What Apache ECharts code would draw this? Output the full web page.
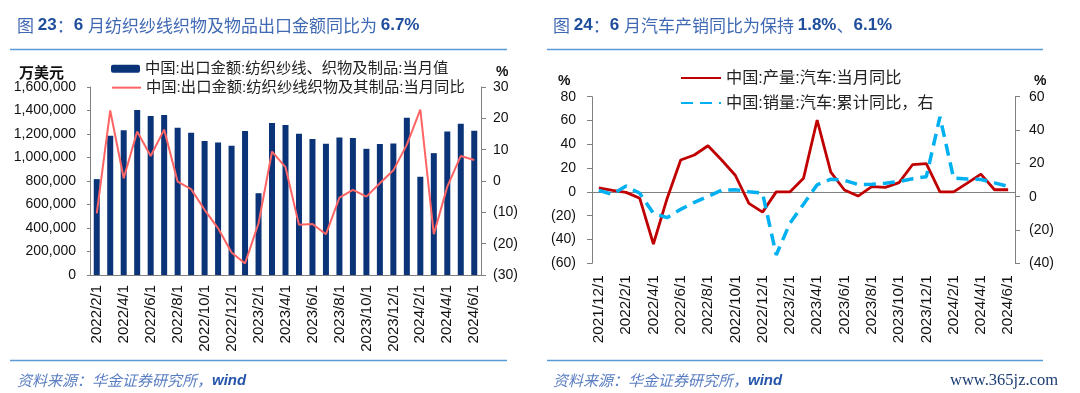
<!DOCTYPE html>
<html><head><meta charset="utf-8">
<script src="https://cdn.jsdelivr.net/npm/echarts/dist/echarts.min.js"></script>
<style>html,body{margin:0;padding:0;background:#fff;}#c{width:1080px;height:393px;}</style>
</head><body><div id="c"></div>
<script>
// ---------- Left chart data (图23) ----------
const leftCats = ['2022/2/1','2022/3/1','2022/4/1','2022/5/1','2022/6/1','2022/7/1','2022/8/1','2022/9/1','2022/10/1','2022/11/1','2022/12/1',
  '2023/1/1','2023/2/1','2023/3/1','2023/4/1','2023/5/1','2023/6/1','2023/7/1','2023/8/1','2023/9/1','2023/10/1','2023/11/1','2023/12/1',
  '2024/1/1','2024/2/1','2024/3/1','2024/4/1','2024/5/1','2024/6/1'];
const exportValue = [816000,1185000,1231000,1404000,1353000,1361000,1253000,1211000,1140000,1128000,1100000,
  1225000,696000,1293000,1276000,1202000,1157000,1117000,1171000,1165000,1074000,1114000,1120000,
  1339000,836000,1037000,1222000,1287000,1228000];
const exportYoY = [-10.3,22.5,0.9,15.8,8.0,16.4,-0.2,-2.6,-9.2,-15.1,-22.8,
  -26.3,-13.5,9.4,4.4,-14.0,-13.7,-17.0,-5.3,-2.8,-5.0,-0.7,3.4,
  11.6,22.8,-17.0,-1.8,8.0,6.7];
const leftNames = ['中国:出口金额:纺织纱线、织物及制品:当月值','中国:出口金额:纺织纱线织物及其制品:当月同比'];

// ---------- Right chart data (图24) ----------
const rightCats = ['2021/12/1','2022/1/1','2022/2/1','2022/3/1','2022/4/1','2022/5/1','2022/6/1','2022/7/1','2022/8/1','2022/9/1','2022/10/1','2022/11/1','2022/12/1',
  '2023/1/1','2023/2/1','2023/3/1','2023/4/1','2023/5/1','2023/6/1','2023/7/1','2023/8/1','2023/9/1','2023/10/1','2023/11/1','2023/12/1',
  '2024/1/1','2024/2/1','2024/3/1','2024/4/1','2024/5/1','2024/6/1'];
const prodYoY = [3.3,1.2,-0.4,-5.4,-43.8,-5.7,26.8,31.0,38.8,26.8,14.0,-9.6,-17.0,
  0,0,11.4,60.4,16.6,1.6,-3.5,4.4,3.8,7.8,23.0,23.8,
  0,0,7.4,15.0,1.8,1.8];
const salesCumYoY = [3.8,1.4,6.4,2.0,-10.0,-12.6,-7.6,-3.4,0.2,3.8,4.2,3.0,2.1,
  -35.0,-16.0,-4.5,7.1,10.5,9.8,7.3,7.4,8.0,9.1,10.8,12.0,
  47.9,11.1,10.6,10.3,8.3,6.1];
const rightNames = ['中国:产量:汽车:当月同比','中国:销量:汽车:累计同比，右'];

const LAT = '"Liberation Sans", "Noto Sans CJK SC", sans-serif';
const CJK = '"Noto Sans CJK SC", sans-serif';
const AX = '#808080';
const LBL = '#111';
const paren = v => v < 0 ? '(' + (-v) + ')' : String(v);

const chart = echarts.init(document.getElementById('c'), null, {renderer: 'canvas'});

const titleRich = {
  c: {fontSize: 17, color: '#4069b3', fontFamily: CJK, fontWeight: 'normal'},
  n: {fontSize: 17, fontWeight: 'bold', color: '#1f4e9c', fontFamily: LAT}
};
const footRich = {
  c: {fontSize: 15, color: '#5a7ec2', fontFamily: CJK, fontStyle: 'italic', fontWeight: 'normal'},
  w: {fontSize: 15, color: '#2555aa', fontFamily: LAT, fontStyle: 'italic', fontWeight: 'bold'}
};
const lineLegend = (name, left, top, w, fs) => ({
  data: [name], left: left, top: top, itemWidth: w, itemHeight: 10, itemGap: 5, padding: 0,
  itemStyle: {opacity: 0},
  textStyle: {fontSize: fs, color: '#222', fontFamily: LAT}
});

const option = {
  backgroundColor: '#fff',
  animation: false,
  title: [
    {left: 12, top: 12, text: '{c|图 }{n|23}{c|：}{n|6 }{c|月纺织纱线织物及物品出口金额同比为 }{n|6.7%}', textStyle: {fontWeight: 'normal', rich: titleRich}},
    {left: 548, top: 12, text: '{c|图 }{n|24}{c|：}{n|6 }{c|月汽车产销同比为保持 }{n|1.8%}{c|、}{n|6.1%}', textStyle: {fontWeight: 'normal', rich: titleRich}},
    {left: 14, top: 60, text: '万美元', textStyle: {fontSize: 15, fontWeight: 'bold', color: '#111', fontFamily: CJK}},
    {left: 491, top: 60, text: '%', textStyle: {fontSize: 14, fontWeight: 'bold', color: '#111', fontFamily: LAT}},
    {left: 553, top: 69, text: '%', textStyle: {fontSize: 14, fontWeight: 'bold', color: '#111', fontFamily: LAT}},
    {left: 1029, top: 69, text: '%', textStyle: {fontSize: 14, fontWeight: 'bold', color: '#111', fontFamily: LAT}},
    {left: 12, top: 368, text: '{c|资料来源：华金证券研究所，}{w|wind}', textStyle: {fontWeight: 'normal', rich: footRich}},
    {left: 548, top: 368, text: '{c|资料来源：华金证券研究所，}{w|wind}', textStyle: {fontWeight: 'normal', rich: footRich}},
    {left: 945, top: 367, text: 'www.365jz.com', textStyle: {fontSize: 16.5, color: '#1c3d73', fontFamily: '"Liberation Serif", serif', fontWeight: 'normal'}}
  ],
  graphic: [
    {type: 'line', shape: {x1: 10, y1: 49.5, x2: 507, y2: 49.5}, style: {stroke: '#5b9bd5', lineWidth: 1.5}},
    {type: 'line', shape: {x1: 547, y1: 49.5, x2: 1043, y2: 49.5}, style: {stroke: '#5b9bd5', lineWidth: 1.5}},
    {type: 'line', shape: {x1: 10, y1: 360.5, x2: 507, y2: 360.5}, style: {stroke: '#5b9bd5', lineWidth: 1.5}},
    {type: 'line', shape: {x1: 547, y1: 360.5, x2: 1043, y2: 360.5}, style: {stroke: '#5b9bd5', lineWidth: 1.5}}
  ],
  legend: [
    {data: [leftNames[0]], left: 111, top: 61, itemWidth: 29, itemHeight: 8, itemGap: 5, padding: 0,
      textStyle: {fontSize: 15.3, color: '#222', fontFamily: LAT}},
    lineLegend(leftNames[1], 111, 80, 29, 15.3),
    lineLegend(rightNames[0], 680, 70, 40, 16.2),
    lineLegend(rightNames[1], 680, 95, 40, 16.2)
  ],
  grid: [
    {left: 90, top: 87, width: 391, height: 188},
    {left: 592, top: 96.7, width: 423, height: 166.6}
  ],
  xAxis: [
    {gridIndex: 0, type: 'category', data: leftCats, position: 'bottom', boundaryGap: true,
      axisLine: {onZero: false, lineStyle: {color: AX, width: 1}},
      axisTick: {interval: 1, length: 4, lineStyle: {color: AX}},
      axisLabel: {interval: 1, rotate: 90, fontSize: 15, margin: 10, color: LBL, fontFamily: LAT},
      splitLine: {show: false}},
    {gridIndex: 1, type: 'category', data: rightCats, position: 'bottom', boundaryGap: true,
      axisLine: {show: false, onZero: false}, axisTick: {show: false},
      axisLabel: {interval: 1, rotate: 90, fontSize: 15.3, margin: 12, color: LBL, fontFamily: LAT},
      splitLine: {show: false}},
    {gridIndex: 1, type: 'category', data: rightCats, position: 'bottom', boundaryGap: true,
      axisLine: {show: true, onZero: true, onZeroAxisIndex: 2, lineStyle: {color: AX, width: 1}},
      axisTick: {interval: 1, length: 4, lineStyle: {color: AX}},
      axisLabel: {show: false}, splitLine: {show: false}}
  ],
  yAxis: [
    {gridIndex: 0, type: 'value', position: 'left', min: 0, max: 1600000, interval: 200000,
      axisLine: {show: true, lineStyle: {color: AX}}, axisTick: {show: true, length: 3, lineStyle: {color: AX}},
      splitLine: {show: false},
      axisLabel: {fontSize: 14, color: LBL, fontFamily: LAT, margin: 14,
        formatter: v => v.toLocaleString('en-US')}},
    {gridIndex: 0, type: 'value', position: 'right', min: -30, max: 30, interval: 10,
      axisLine: {show: true, lineStyle: {color: AX}}, axisTick: {show: true, length: 5, lineStyle: {color: AX}},
      splitLine: {show: false},
      axisLabel: {fontSize: 14, color: LBL, fontFamily: LAT, margin: 12, formatter: paren}},
    {gridIndex: 1, type: 'value', position: 'left', min: -60, max: 80, interval: 20,
      axisLine: {show: true, lineStyle: {color: AX}}, axisTick: {show: true, length: 5, lineStyle: {color: AX}},
      splitLine: {show: false},
      axisLabel: {fontSize: 14, color: LBL, fontFamily: LAT, margin: 16, formatter: paren}},
    {gridIndex: 1, type: 'value', position: 'right', min: -40, max: 60, interval: 20,
      axisLine: {show: true, lineStyle: {color: AX}}, axisTick: {show: true, length: 5, lineStyle: {color: AX}},
      splitLine: {show: false},
      axisLabel: {fontSize: 14, color: LBL, fontFamily: LAT, margin: 14, formatter: paren}}
  ],
  series: [
    {name: leftNames[0], type: 'bar', xAxisIndex: 0, yAxisIndex: 0, data: exportValue,
      barWidth: 6, itemStyle: {color: '#0b3478'}},
    {name: leftNames[1], type: 'line', xAxisIndex: 0, yAxisIndex: 1, data: exportYoY,
      symbol: 'none', lineStyle: {color: '#ff6464', width: 2}, itemStyle: {color: '#ff6464'}},
    {name: rightNames[0], type: 'line', xAxisIndex: 2, yAxisIndex: 2, data: prodYoY,
      symbol: 'none', lineStyle: {color: '#c00000', width: 2.8}, itemStyle: {color: '#c00000'}},
    {name: rightNames[1], type: 'line', xAxisIndex: 2, yAxisIndex: 3, data: salesCumYoY,
      symbol: 'none', lineStyle: {color: '#00b0f0', width: 3.5, type: [12, 7]}, itemStyle: {color: '#00b0f0'}}
  ]
};
chart.setOption(option);
</script>
</body></html>
